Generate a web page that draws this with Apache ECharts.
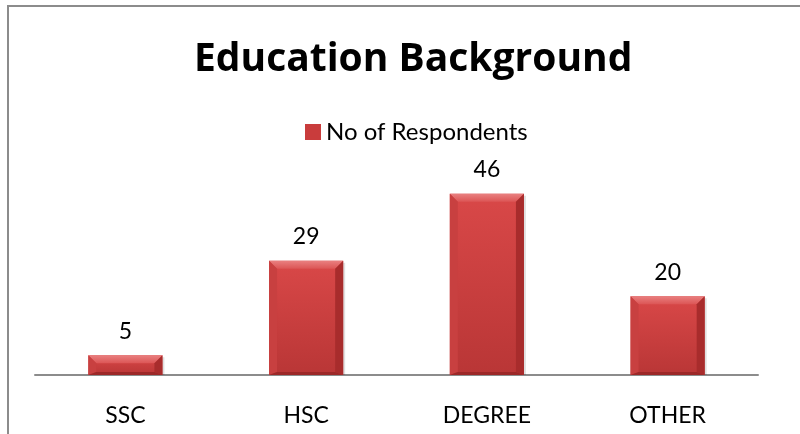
<!DOCTYPE html>
<html>
<head>
<meta charset="utf-8">
<script src="https://cdn.jsdelivr.net/npm/echarts@6/dist/echarts.min.js"></script>
<style>
  html, body { margin: 0; padding: 0; background: #fff; }
  #chart { width: 800px; height: 434px; }
</style>
</head>
<body>
<div id="chart"></div>
<script>
// Education background of survey respondents
const chartTitle = 'Education Background';
const seriesName = 'No of Respondents';
const categories = ['SSC', 'HSC', 'DEGREE', 'OTHER'];
const respondents = [5, 29, 46, 20];

const FONT = 'Lato, "Open Sans", sans-serif';
const TITLE_FONT = '"Open Sans", Lato, sans-serif';

// Bevelled bar: body, lighter top edge, shaded sides and a thin bottom rim
function renderBar(params, api) {
  const idx = api.value(0);
  const val = api.value(1);
  const top = api.coord([idx, val]);
  const base = api.coord([idx, 0]);
  const w = api.size([1, 0])[0] * 0.41;
  const x0 = top[0] - w / 2, x1 = top[0] + w / 2;
  const y0 = top[1], y1 = base[1];
  const h = y1 - y0;
  const b = Math.min(8, h / 2);
  const bb = Math.min(3, h / 4);
  return {
    type: 'group',
    children: [
      { type: 'rect', shape: { x: x0 + 2, y: y0 + 2, width: w, height: h - 2 },
        style: { fill: 'rgba(0,0,0,0.12)' } },
      { type: 'rect', shape: { x: x0, y: y0, width: w, height: h },
        style: { fill: new echarts.graphic.LinearGradient(0, 0, 0, 1, [
          { offset: 0, color: '#d94848' }, { offset: 1, color: '#b93636' }]) } },
      { type: 'polygon', shape: { points: [[x0, y0], [x1, y0], [x1 - b, y0 + b], [x0 + b, y0 + b]] },
        style: { fill: new echarts.graphic.LinearGradient(0, 0, 0, 1, [
          { offset: 0, color: '#e98080' }, { offset: 1, color: '#dc5555' }]) } },
      { type: 'polygon', shape: { points: [[x0, y0], [x0 + b, y0 + b], [x0 + b, y1 - bb], [x0, y1]] },
        style: { fill: '#c84040' } },
      { type: 'polygon', shape: { points: [[x1, y0], [x1 - b, y0 + b], [x1 - b, y1 - bb], [x1, y1]] },
        style: { fill: '#a82c2c' } },
      { type: 'polygon', shape: { points: [[x0, y1], [x0 + b, y1 - bb], [x1 - b, y1 - bb], [x1, y1]] },
        style: { fill: '#9c2828' } },
      { type: 'text', x: top[0], y: y0 - 24,
        style: { text: String(val), fill: '#000', font: '23px ' + FONT,
                 align: 'center', verticalAlign: 'middle' } }
    ]
  };
}

const chart = echarts.init(document.getElementById('chart'), null, { renderer: 'canvas' });
chart.setOption({
  animation: false,
  backgroundColor: '#fff',
  title: {
    text: chartTitle, left: 189, top: 35,
    textStyle: { fontFamily: TITLE_FONT, fontWeight: 'bold', fontSize: 39, color: '#000' }
  },
  legend: {
    data: [seriesName], left: 300, top: 115,
    icon: 'rect', itemWidth: 16, itemHeight: 16, itemGap: 6,
    textStyle: { fontFamily: FONT, fontSize: 24, color: '#000' }
  },
  graphic: [{
    type: 'rect', silent: true, z: -1,
    shape: { x: 8, y: 6, width: 1000, height: 1000 },
    style: { fill: 'none', stroke: '#8c8c8c', lineWidth: 2 }
  }],
  grid: { left: 35, right: 42, top: 178, bottom: 59 },
  xAxis: {
    type: 'category', data: categories,
    axisLine: { lineStyle: { color: '#8c8c8c', width: 2 } },
    axisTick: { show: false },
    axisLabel: { fontFamily: FONT, fontSize: 23, color: '#000', margin: 29 }
  },
  yAxis: { type: 'value', min: 0, max: 50, show: false, splitLine: { show: false } },
  series: [{
    name: seriesName, type: 'custom',
    itemStyle: { color: '#c93c3c' },
    data: respondents.map((v, i) => [i, v]),
    renderItem: renderBar
  }]
});
</script>
</body>
</html>
